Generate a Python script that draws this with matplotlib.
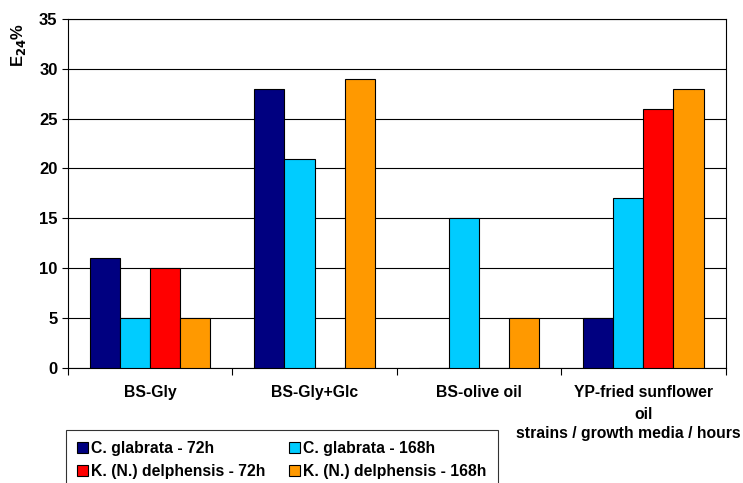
import matplotlib
matplotlib.use("Agg")
import matplotlib.pyplot as plt
import numpy as np

CATEGORIES = ["BS-Gly", "BS-Gly+Glc", "BS-olive oil", "YP-fried sunflower\noil"]
SERIES = ["C. glabrata - 72h", "C. glabrata - 168h",
          "K. (N.) delphensis - 72h", "K. (N.) delphensis - 168h"]
VALUES = [
    [11, 28, 0, 5],
    [5, 21, 15, 17],
    [10, 0, 0, 26],
    [5, 29, 5, 28],
]
COLORS = ["#000080", "#00CCFF", "#FF0000", "#FF9900"]

FS = 11.3
plt.rcParams.update({"font.family": ["Liberation Sans", "DejaVu Sans"],
                     "font.weight": "bold", "font.size": FS})

fig = plt.figure(figsize=(7.43, 4.83), dpi=100)
ax = fig.add_axes([0.0915, 0.238, 0.885, 0.723])

x = np.arange(len(CATEGORIES))
w = 0.183
handles = []
for i, (lab, vals) in enumerate(zip(SERIES, VALUES)):
    h = ax.bar(x + (i - 1.5) * w, vals, w, color=COLORS[i], edgecolor="black",
               linewidth=0.8, label=lab, zorder=3)
    handles.append(h)

ax.set_xlim(-0.5, 3.5)
ax.set_ylim(0, 35)
ax.set_yticks(range(0, 36, 5))
ax.yaxis.grid(True, color="black", linewidth=0.8, zorder=0)
ax.set_xticks(np.arange(-0.5, 3.6, 1.0))
ax.set_xticklabels([])
ax.tick_params(axis="x", length=5, direction="out")
ax.tick_params(axis="y", length=4, direction="out", labelsize=12)
for s in ax.spines.values():
    s.set_color("black")
    s.set_linewidth(0.8)
for lbl in ax.get_yticklabels():
    lbl.set_fontweight("bold")

for xi, c in zip(x, CATEGORIES):
    ax.text(xi, -1.7, c, ha="center", va="top", fontsize=FS, fontweight="bold",
            linespacing=1.6)

fig.text(0.997, 0.103, "strains / growth media / hours", ha="right", va="center",
         fontsize=FS, fontweight="bold")
fig.text(0.025, 0.907, "E$_{\\mathbf{24}}$%", rotation=90, ha="center", va="center",
         fontsize=12, fontweight="bold")

# legend is filled column by column, so reorder to get row-wise layout
order = [0, 2, 1, 3]
leg = fig.legend(handles=[handles[k] for k in order], labels=[SERIES[k] for k in order],
                 ncol=2, loc="upper left", borderaxespad=0,
                 bbox_to_anchor=(0.089, 0.11), frameon=True, fancybox=False,
                 edgecolor="black", handlelength=0.7, handleheight=0.7,
                 handletextpad=0.2, columnspacing=1.5, borderpad=0.7,
                 labelspacing=0.5, prop={"weight": "bold", "size": FS})
leg.get_frame().set_linewidth(0.8)

fig.savefig("out.png", dpi=100)
